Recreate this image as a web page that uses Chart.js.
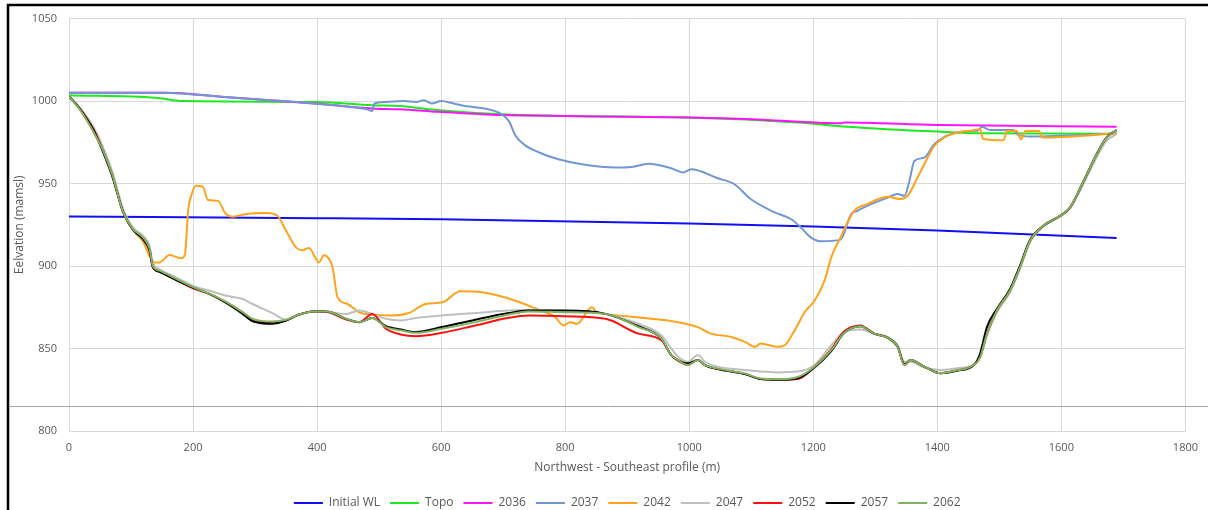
<!DOCTYPE html>
<html>
<head>
<meta charset="utf-8">
<script src="https://cdn.jsdelivr.net/npm/chart.js@4.4.1/dist/chart.umd.min.js"></script>
<style>
  html, body { margin: 0; padding: 0; background: #fff; }
  #wrap { width: 1208px; height: 510px; }
</style>
</head>
<body>
<div id="wrap"><canvas id="profileChart" width="1208" height="510"></canvas></div>
<script>
// [distance (m), elevation (mamsl)]
const initialWL = [[0, 930], [400, 929], [600, 928.3], [1000, 925.8], [1200, 924], [1400, 921.5], [1689, 917]];

const topo = [[0, 1003.6], [140, 1002], [150, 1001.5], [183, 1000], [398, 999.5], [489, 997.5], [532, 997],
    [596, 994.5], [700, 992], [800, 991], [998, 990], [1175, 987], [1255, 984.5], [1400, 981.5], [1469, 980.5], [1689, 980.2]];

const wl2036 = [[0, 1005], [157, 1005], [250, 1002.5], [400, 998.4], [489, 995.5], [532, 995], [596, 993.5],
    [700, 991.5], [800, 991], [998, 990], [1100, 989], [1244, 986.5], [1250, 987], [1400, 985.5], [1689, 984.5]];

const wl2037 = [[0, 1005], [150, 1005], [250, 1002.5], [400, 998.4], [480, 995], [489, 994], [492, 998.5],
    [510, 999.5], [540, 1000], [560, 999.5], [572, 1000.5], [585, 998.5], [600, 1000], [620, 998.5], [639, 997],
    [676, 995], [693, 993], [709, 988], [720, 979], [736, 973], [757, 969], [789, 964.7], [827, 961.7],
    [881, 959.7], [907, 960], [934, 962], [971, 959.3], [990, 956.7], [1003, 958.7], [1046, 953.2],
    [1073, 949.6], [1099, 940.6], [1138, 932.5], [1164, 928.5], [1180, 923.4], [1196, 917.4], [1212, 915],
    [1244, 916], [1261, 931.5], [1271, 933.5], [1293, 937.5], [1320, 941.5], [1336, 943.6], [1347, 942.6],
    [1355, 951.6], [1363, 963.7], [1379, 965.7], [1395, 973.8], [1411, 978.2], [1432, 980.9], [1453, 981.9],
    [1465, 982], [1472, 984.5], [1485, 982.5], [1523, 982.5], [1530, 979.5], [1549, 978.5], [1689, 980.3]];

const wl2042 = [[0, 1003], [20, 993.5], [40, 981], [55, 970], [70, 955], [87, 933], [103, 922], [119, 915],
    [130, 906], [138, 902.2], [146, 902.2], [162, 906.7], [181, 904.7], [187, 907], [192, 933.5], [197, 942.6],
    [205, 948.6], [216, 948], [224, 940], [240, 939.5], [253, 931.5], [264, 929.9], [286, 931.5], [318, 932.1],
    [336, 930.5], [350, 921.4], [366, 911.3], [376, 909.5], [387, 911], [398, 904.5], [403, 902.2], [411, 906.5],
    [425, 899], [433, 881], [449, 877], [468, 872], [489, 870.6], [521, 870], [548, 871.5], [575, 877],
    [602, 878], [631, 884.7], [665, 884.1], [693, 882], [720, 879], [754, 874], [784, 869], [797, 864],
    [808, 866], [819, 865], [843, 875], [851, 872], [864, 871], [928, 868.5], [982, 866], [1014, 863],
    [1035, 859], [1068, 857], [1090, 854], [1106, 851], [1115, 853], [1143, 851], [1154, 852], [1170, 861],
    [1186, 872], [1202, 879], [1218, 891], [1229, 905.3], [1244, 917.4], [1266, 933.5], [1287, 937.5],
    [1320, 942], [1341, 940.6], [1352, 942.5], [1368, 953.6], [1379, 961.7], [1395, 972.8], [1411, 977.9],
    [1432, 980.9], [1453, 982], [1469, 982.9], [1474, 977], [1507, 976.2], [1512, 981.9], [1528, 981.9],
    [1535, 976.8], [1542, 981.9], [1564, 981.9], [1569, 977.9], [1689, 980.3]];

// later years share one set of distances
const laterDist = [
    0, 20, 40, 55, 70, 87, 103, 119,
    130, 135, 146, 173, 200, 227, 254, 280,
    296, 328, 350, 371, 398, 419, 447, 468,
    489, 511, 535, 559, 601, 655, 709, 741,
    800, 865, 918, 955, 971, 982, 998, 1014,
    1025, 1046, 1090, 1115, 1143, 1175, 1202, 1229,
    1250, 1276, 1298, 1320, 1336, 1347, 1357, 1379,
    1405, 1432, 1459, 1469, 1480, 1496, 1517, 1533,
    1549, 1571, 1598, 1614, 1636, 1657, 1673, 1689];

const wl2047 = [
    1003.5, 995, 984, 972, 957, 935, 923.5, 918.5,
    912, 902, 898, 893, 888, 885, 882, 880,
    877, 871.5, 867.5, 870.5, 872.5, 872, 871, 873,
    871, 868, 867, 868.5, 870, 871.5, 873, 873.5,
    872.5, 871, 865, 858, 850, 845, 842, 846,
    842, 839, 837, 836, 835.5, 836, 840, 852,
    860, 861.5, 859, 857, 852, 842, 842, 838.5,
    837, 838, 840.5, 845, 858, 872, 884, 898,
    914, 924, 930, 935, 950, 966, 976, 979.9];

const wl2052 = [
    1003, 994, 982.5, 970, 955, 933, 922, 917,
    910, 899.5, 896.5, 891.5, 886.5, 883, 878, 872,
    867.5, 865.5, 867, 870.6, 872.6, 872, 867.5, 866,
    871, 862, 858.5, 857.5, 859.5, 864, 868.6, 870,
    869.6, 868, 859, 855, 846, 842.5, 840, 843,
    840, 837.5, 834.5, 831.5, 831, 831.5, 839, 849.5,
    860.5, 864, 859, 856.5, 851, 840, 843, 839,
    835, 836.8, 840, 844.8, 859, 873, 885, 899,
    915, 924.4, 930.5, 935.5, 951.6, 967.8, 977.9, 982.3];

const wl2057 = [
    1003, 994, 982, 969, 954, 933, 922, 916.5,
    909, 899.5, 896.5, 891.5, 887, 883, 877.5, 871,
    866.5, 865, 867, 870.6, 872.6, 872.3, 868, 866,
    868.5, 863.5, 861.5, 860, 863, 867.5, 871.5, 873,
    873, 871, 863.5, 856, 846, 843, 841, 843,
    840, 837.5, 834.5, 831.5, 831, 832, 838.5, 848.5,
    859.5, 863.5, 859, 856.5, 851, 840.5, 843, 839,
    835, 836.5, 840, 847, 863, 874, 886, 900,
    915.5, 924.4, 930.5, 935.5, 951.6, 968, 978, 982.5];

const wl2062 = [
    1003, 993.5, 981, 970, 955, 933, 922.4, 917.4,
    910.3, 900.2, 897.2, 892.2, 887.2, 883.1, 878.1, 872,
    868, 866.4, 867.4, 870.6, 872.6, 872.3, 868, 866,
    868.5, 863, 861, 859.5, 862, 866, 870.6, 872.5,
    872, 871, 863, 856, 846, 843, 840, 843,
    840, 837.8, 834.8, 831.8, 831.3, 832.7, 839, 849,
    859.5, 863.5, 859, 856.5, 851, 840, 843, 839,
    835.1, 836.8, 840, 844.8, 859, 873, 885, 899,
    915, 924.4, 930.5, 935.5, 951.6, 967.8, 977.9, 982.3];

const seriesNames = ['Initial WL', 'Topo', '2036', '2037', '2042', '2047', '2052', '2057', '2062'];
const seriesColors = ['#1010f5', '#1ee81e', '#ff14ff', '#7096d4', '#ffa31f', '#bfbfbf', '#ff1010', '#000000', '#7fb35f'];
const xTicks = [0, 200, 400, 600, 800, 1000, 1200, 1400, 1600, 1800];
const yTicks = [800, 850, 900, 950, 1000, 1050];

function onLater(values) {
    return values.map((v, i) => [laterDist[i], v]);
}

const seriesData = [initialWL, topo, wl2036, wl2037, wl2042,
    onLater(wl2047), onLater(wl2052), onLater(wl2057), onLater(wl2062)];

// black frame on the left / top and the thin rule across the lower part
const framePlugin = {
    id: 'frame',
    afterDraw(chart) {
        const ctx = chart.ctx;
        ctx.save();
        ctx.strokeStyle = '#a6a6a6';
        ctx.lineWidth = 1;
        ctx.beginPath();
        ctx.moveTo(9, 406.5);
        ctx.lineTo(1208, 406.5);
        ctx.stroke();
        ctx.strokeStyle = '#000';
        ctx.lineWidth = 2.5;
        ctx.beginPath();
        ctx.moveTo(8, 510);
        ctx.lineTo(8, 5);
        ctx.lineTo(1208, 5);
        ctx.stroke();
        ctx.restore();
    }
};

const gridColor = '#d9d9d9';
const textColor = '#595959';
const fontFamily = "'Open Sans', 'Noto Sans', sans-serif";

let profileChart = new Chart(document.getElementById('profileChart').getContext('2d'), {
    type: 'line',
    data: {
        datasets: seriesData.map((d, i) => ({
            label: seriesNames[i],
            data: d,
            borderColor: seriesColors[i],
            backgroundColor: seriesColors[i],
            borderWidth: 2,
            pointRadius: 0,
            fill: false,
            cubicInterpolationMode: 'monotone',
            order: seriesData.length - i
        }))
    },
    options: {
        responsive: false,
        animation: false,
        layout: {
            padding: { left: 0, top: 18, right: 19, bottom: -9 }
        },
        plugins: {
            legend: {
                position: 'bottom',
                fullSize: false,
                labels: {
                    usePointStyle: true,
                    pointStyle: 'line',
                    pointStyleWidth: 29,
                    padding: 10,
                    color: textColor,
                    font: { family: fontFamily, size: 12 },
                    sort: (a, b) => a.datasetIndex - b.datasetIndex
                }
            },
            tooltip: { enabled: false }
        },
        scales: {
            x: {
                type: 'linear',
                min: 0,
                max: 1800,
                afterFit: s => { s.height = 56; },
                afterBuildTicks: s => { s.ticks = xTicks.map(v => ({ value: v })); },
                grid: { color: gridColor, drawTicks: false },
                border: { color: gridColor },
                ticks: {
                    color: textColor,
                    padding: 10,
                    font: { family: fontFamily, size: 11 },
                    callback: v => String(v)
                },
                title: {
                    display: true,
                    text: 'Northwest - Southeast profile (m)',
                    color: textColor,
                    font: { family: fontFamily, size: 12 },
                    padding: { top: 0, bottom: 12 }
                }
            },
            y: {
                min: 800,
                max: 1050,
                afterFit: s => { s.width = 69; },
                afterBuildTicks: s => { s.ticks = yTicks.map(v => ({ value: v })); },
                grid: { color: gridColor, drawTicks: false },
                border: { color: gridColor },
                ticks: {
                    color: textColor,
                    padding: 12,
                    font: { family: fontFamily, size: 11 },
                    callback: v => String(v)
                },
                title: {
                    display: true,
                    text: 'Eelvation (mamsl)',
                    color: textColor,
                    font: { family: fontFamily, size: 12 },
                    padding: { top: 12, bottom: 0 }
                }
            }
        }
    },
    plugins: [framePlugin]
});
</script>
</body>
</html>
